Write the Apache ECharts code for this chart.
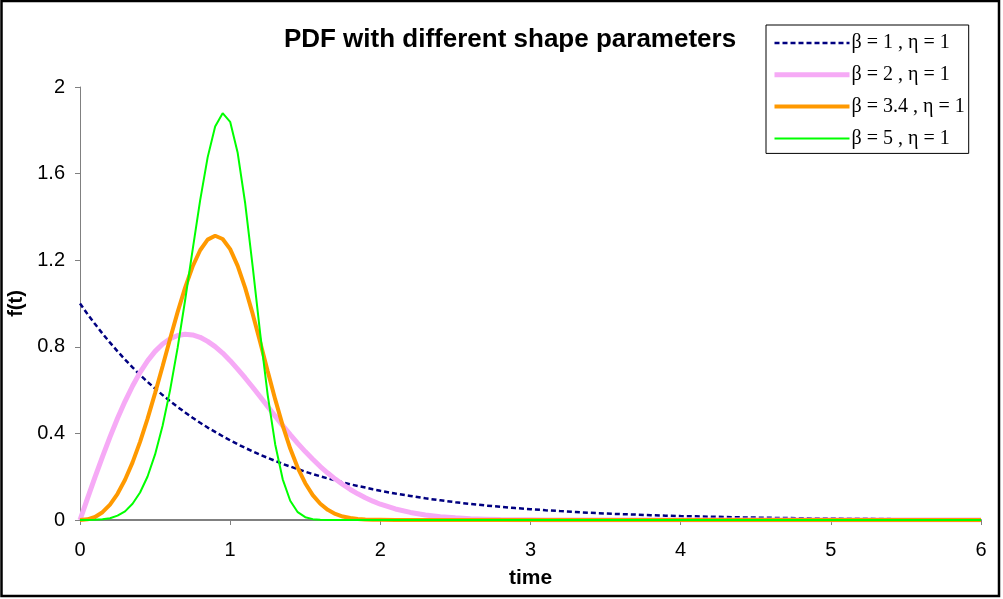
<!DOCTYPE html>
<html>
<head>
<meta charset="utf-8">
<script src="https://cdn.jsdelivr.net/npm/echarts@6/dist/echarts.min.js"></script>
<style>
  html, body { margin: 0; padding: 0; background: #fff; }
  #main { width: 1003px; height: 599px; }
</style>
</head>
<body>
<div id="main"></div>
<script>
// time values (x axis)
var times = [0, 0.05, 0.1, 0.15, 0.2, 0.25, 0.3, 0.35, 0.4, 0.45, 0.5, 0.55, 0.6, 0.65, 0.7, 0.75, 0.8, 0.85, 0.9, 0.95,
  1, 1.05, 1.1, 1.15, 1.2, 1.25, 1.3, 1.35, 1.4, 1.45, 1.5, 1.55, 1.6, 1.65, 1.7, 1.75, 1.8, 1.85, 1.9, 1.95, 2,
  2.1, 2.2, 2.3, 2.4, 2.5, 2.6, 2.7, 2.8, 2.9, 3,
  3.1, 3.2, 3.3, 3.4, 3.5, 3.6, 3.7, 3.8, 3.9, 4,
  4.1, 4.2, 4.3, 4.4, 4.5, 4.6, 4.7, 4.8, 4.9, 5,
  5.1, 5.2, 5.3, 5.4, 5.5, 5.6, 5.7, 5.8, 5.9, 6];

// f(t) for each shape parameter
var beta1 = [1, 0.951, 0.905, 0.861, 0.819, 0.779, 0.741, 0.705, 0.670, 0.638, 0.607, 0.577, 0.549, 0.522, 0.497, 0.472, 0.449, 0.427, 0.407, 0.387,
  0.368, 0.350, 0.333, 0.317, 0.301, 0.287, 0.273, 0.259, 0.247, 0.235, 0.223, 0.212, 0.202, 0.192, 0.183, 0.174, 0.165, 0.157, 0.150, 0.142, 0.135,
  0.122, 0.111, 0.100, 0.091, 0.082, 0.074, 0.067, 0.061, 0.055, 0.050,
  0.045, 0.041, 0.037, 0.033, 0.030, 0.027, 0.025, 0.022, 0.020, 0.018,
  0.017, 0.015, 0.014, 0.012, 0.011, 0.010, 0.009, 0.008, 0.007, 0.007,
  0.006, 0.006, 0.005, 0.005];

var beta2 = [0, 0.100, 0.198, 0.293, 0.384, 0.470, 0.548, 0.619, 0.682, 0.735, 0.779, 0.813, 0.837, 0.852, 0.858, 0.855, 0.844, 0.825, 0.801, 0.771,
  0.736, 0.697, 0.656, 0.613, 0.569, 0.524, 0.480, 0.436, 0.394, 0.354, 0.316, 0.281, 0.247, 0.217, 0.189, 0.164, 0.141, 0.121, 0.103, 0.087, 0.073,
  0.051, 0.035, 0.023, 0.015, 0.010, 0.006, 0.004, 0.002, 0.001, 0.001,
  0, 0, 0, 0, 0, 0, 0, 0, 0, 0,
  0, 0, 0, 0, 0, 0, 0, 0, 0, 0,
  0, 0, 0, 0, 0, 0, 0, 0, 0, 0];

var beta34 = [0, 0.003, 0.014, 0.036, 0.071, 0.121, 0.186, 0.266, 0.361, 0.468, 0.586, 0.710, 0.837, 0.960, 1.073, 1.171, 1.246, 1.295, 1.313, 1.298,
  1.251, 1.174, 1.072, 0.952, 0.821, 0.687, 0.557, 0.436, 0.330, 0.241, 0.170, 0.115, 0.075, 0.047, 0.028, 0.016, 0.009, 0.005, 0.002, 0.001, 0.001,
  0, 0, 0, 0, 0, 0, 0, 0, 0, 0,
  0, 0, 0, 0, 0, 0, 0, 0, 0, 0,
  0, 0, 0, 0, 0, 0, 0, 0, 0, 0,
  0, 0, 0, 0, 0, 0, 0, 0, 0, 0];

var beta5 = [0, 0, 0.001, 0.003, 0.008, 0.020, 0.040, 0.075, 0.127, 0.201, 0.303, 0.435, 0.600, 0.795, 1.015, 1.248, 1.476, 1.675, 1.818, 1.879,
  1.839, 1.696, 1.463, 1.170, 0.861, 0.577, 0.349, 0.188, 0.089, 0.036, 0.013, 0.004, 0.001, 0, 0, 0, 0, 0, 0, 0, 0,
  0, 0, 0, 0, 0, 0, 0, 0, 0, 0,
  0, 0, 0, 0, 0, 0, 0, 0, 0, 0,
  0, 0, 0, 0, 0, 0, 0, 0, 0, 0,
  0, 0, 0, 0, 0, 0, 0, 0, 0, 0];

var seriesNames = ["β = 1 , η = 1", "β = 2 , η = 1", "β = 3.4 , η = 1", "β = 5 , η = 1"];
var xTicks = [0, 1, 2, 3, 4, 5, 6];
var yTicks = [0, 0.4, 0.8, 1.2, 1.6, 2];

var lineStyles = [
  { color: "#000080", width: 2.5, type: [5, 3] },
  { color: "#f6aaf6", width: 5 },
  { color: "#ff9900", width: 4 },
  { color: "#00ff00", width: 2 }
];

function pairs(values) {
  return values.map(function (v, i) { return [times[i], v]; });
}

var axisFont = "Liberation Sans, Arial, sans-serif";
var valueSets = [beta1, beta2, beta34, beta5];

var myChart = echarts.init(document.getElementById("main"));
myChart.setOption({
  animation: false,
  backgroundColor: "#fff",
  title: {
    text: "PDF with different shape parameters",
    left: 505,
    top: 22,
    textAlign: "center",
    textStyle: { fontFamily: axisFont, fontWeight: "bold", fontSize: 26, color: "#000" }
  },
  legend: {
    orient: "vertical",
    left: 766,
    top: 25,
    padding: [8, 4, 5, 6],
    itemWidth: 75,
    itemHeight: 20,
    itemGap: 11.8,
    borderColor: "#000",
    borderWidth: 1,
    backgroundColor: "#fff",
    itemStyle: { opacity: 0 },
    textStyle: { fontFamily: "Liberation Serif, Times New Roman, serif", fontSize: 20, color: "#000", padding: [0, 0, 0, -3] },
    data: seriesNames.map(function (n, i) {
      return { name: n, lineStyle: lineStyles[i] };
    })
  },
  grid: { left: 80, right: 22, top: 87, bottom: 79, outerBoundsMode: "none", containLabel: false },
  xAxis: {
    type: "value",
    min: xTicks[0],
    max: xTicks[xTicks.length - 1],
    interval: 1,
    name: "time",
    nameLocation: "middle",
    nameGap: 48,
    nameTextStyle: { fontFamily: axisFont, fontWeight: "bold", fontSize: 21, color: "#000" },
    axisLine: { lineStyle: { color: "#808080", width: 2 } },
    axisTick: { length: 5, lineStyle: { color: "#808080" } },
    axisLabel: { margin: 20, fontFamily: axisFont, fontSize: 20, color: "#000" },
    splitLine: { show: false }
  },
  yAxis: {
    type: "value",
    min: yTicks[0],
    max: yTicks[yTicks.length - 1],
    interval: 0.4,
    name: "f(t)",
    nameLocation: "middle",
    nameGap: 50,
    nameTextStyle: { fontFamily: axisFont, fontWeight: "bold", fontSize: 20, color: "#000" },
    axisLine: { show: true, lineStyle: { color: "#808080", width: 1 } },
    axisTick: { show: true, length: 5, lineStyle: { color: "#808080" } },
    axisLabel: { margin: 15, fontFamily: axisFont, fontSize: 20, color: "#000" },
    splitLine: { show: false }
  },
  series: valueSets.map(function (vals, i) {
    return {
      name: seriesNames[i],
      type: "line",
      symbol: "none",
      lineStyle: lineStyles[i],
      itemStyle: { color: lineStyles[i].color },
      data: pairs(vals)
    };
  }),
  graphic: [
    {
      type: "rect",
      shape: { x: 1.5, y: 1, width: 997.5, height: 595 },
      style: { fill: null, stroke: "#000", lineWidth: 2.5 },
      silent: true
    }
  ]
});
</script>
</body>
</html>
